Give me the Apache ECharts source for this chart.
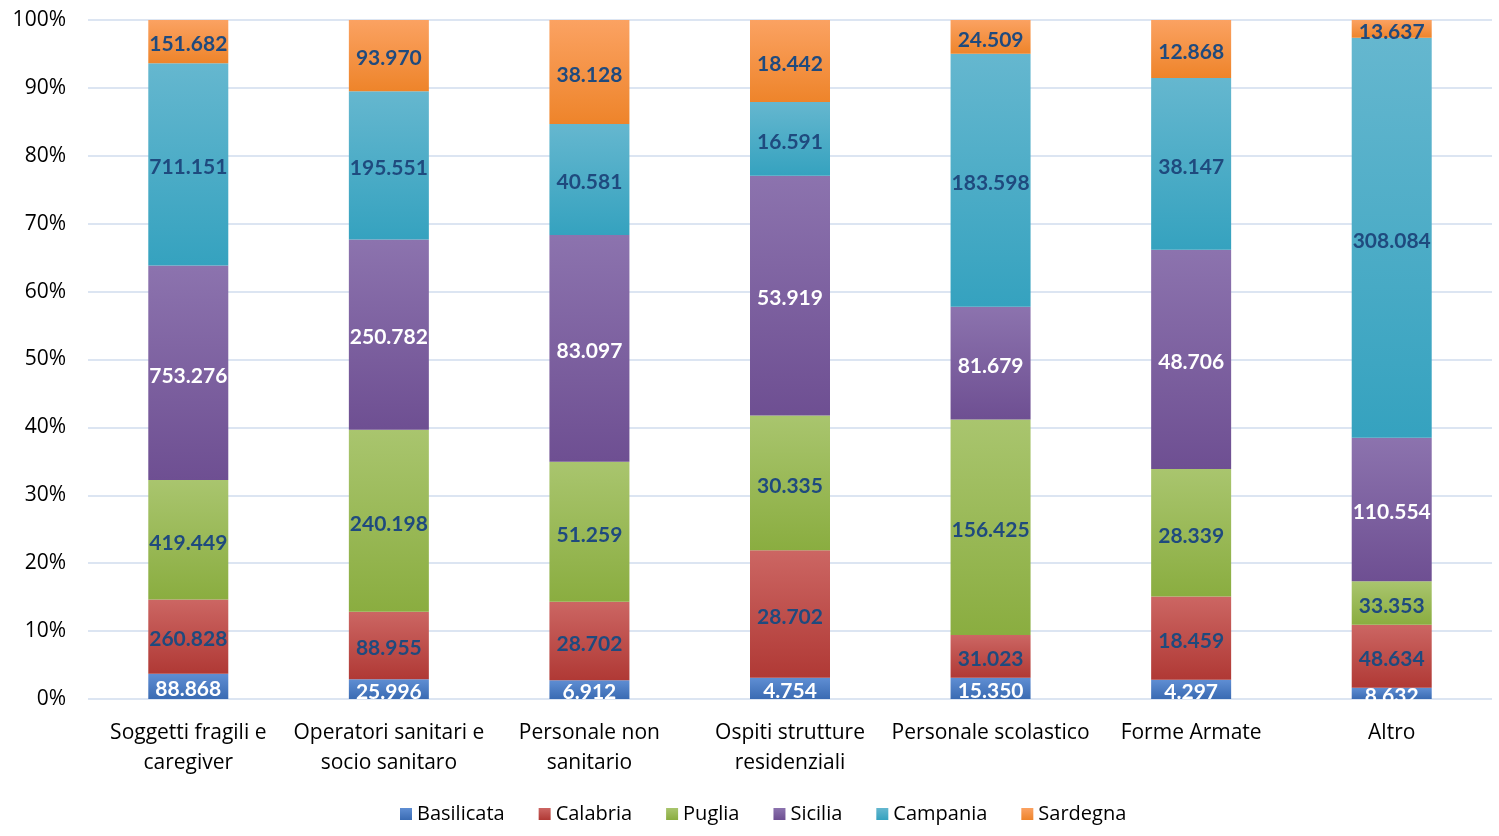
<!DOCTYPE html>
<html>
<head>
<meta charset="utf-8">
<script src="https://cdn.jsdelivr.net/npm/echarts@6/dist/echarts.min.js"></script>
<style>
html,body{margin:0;padding:0;background:#fff;}
#chart{width:1499px;height:836px;}
</style>
</head>
<body>
<div id="chart"></div>
<script>
var categories = ["Soggetti fragili e\ncaregiver", "Operatori sanitari e\nsocio sanitaro", "Personale non\nsanitario", "Ospiti strutture\nresidenziali", "Personale scolastico", "Forme Armate", "Altro"];
var seriesNames = ["Basilicata", "Calabria", "Puglia", "Sicilia", "Campania", "Sardegna"];
var basilicata = [88868, 25996, 6912, 4754, 15350, 4297, 8632];
var calabria   = [260828, 88955, 28702, 28702, 31023, 18459, 48634];
var puglia     = [419449, 240198, 51259, 30335, 156425, 28339, 33353];
var sicilia    = [753276, 250782, 83097, 53919, 81679, 48706, 110554];
var campania   = [711151, 195551, 40581, 16591, 183598, 38147, 308084];
var sardegna   = [151682, 93970, 38128, 18442, 24509, 12868, 13637];
var yTicks = [0, 10, 20, 30, 40, 50, 60, 70, 80, 90, 100];

var allSeries = [basilicata, calabria, puglia, sicilia, campania, sardegna];
var totals = categories.map(function(_, i){
  var s = 0; allSeries.forEach(function(a){ s += a[i]; }); return s;
});
var gradTop = ["#5F8ED3", "#CC6663", "#A9C56E", "#8C73AE", "#65B7CF", "#FBA262"];
var gradBot = ["#3A6BB3", "#B03935", "#8AAD40", "#6E4F92", "#35A2BF", "#EE842A"];
var labelColors = ["#FFFFFF", "#1F4A7E", "#1F4A7E", "#FFFFFF", "#1F4A7E", "#1F4A7E"];

function fmt(v){
  return String(v).replace(/\B(?=(\d{3})+(?!\d))/g, ".");
}

var series = seriesNames.map(function(name, si){
  return {
    name: name,
    type: 'bar',
    stack: 'total',
    barWidth: 80,
    data: allSeries[si].map(function(v, i){ return {value: v / totals[i] * 100, raw: v}; }),
    itemStyle: {
      color: new echarts.graphic.LinearGradient(0, 0, 0, 1, [
        {offset: 0, color: gradTop[si]}, {offset: 1, color: gradBot[si]}
      ])
    },
    label: {
      show: true,
      position: 'inside',
      offset: [0, 3],
      color: labelColors[si],
      fontFamily: 'Lato',
      fontWeight: 'bold',
      fontSize: 21,
      formatter: function(p){ return fmt(p.data.raw); }
    }
  };
});

var chart = echarts.init(document.getElementById('chart'));
chart.setOption({
  animation: false,
  textStyle: {fontFamily: 'Open Sans'},
  grid: {left: 88, right: 7, top: 20, bottom: 137, containLabel: false},
  legend: {
    bottom: 7,
    left: 395,
    itemWidth: 12,
    itemHeight: 12,
    itemGap: 34,
    icon: 'rect',
    textStyle: {fontFamily: 'Open Sans', fontSize: 20, color: '#000'},
    data: seriesNames
  },
  xAxis: {
    type: 'category',
    data: categories,
    axisLine: {show: false},
    axisTick: {show: false},
    axisLabel: {
      interval: 0,
      fontFamily: 'Open Sans',
      fontSize: 21,
      lineHeight: 30,
      color: '#000',
      margin: 19
    }
  },
  yAxis: {
    type: 'value',
    min: yTicks[0],
    max: yTicks[yTicks.length - 1],
    interval: 10,
    axisLine: {show: false},
    axisTick: {show: false},
    axisLabel: {
      fontFamily: 'Open Sans',
      fontSize: 21,
      color: '#000',
      margin: 22,
      formatter: '{value}%'
    },
    splitLine: {lineStyle: {color: '#DCE5F2', width: 2}}
  },
  series: series
});
</script>
</body>
</html>
